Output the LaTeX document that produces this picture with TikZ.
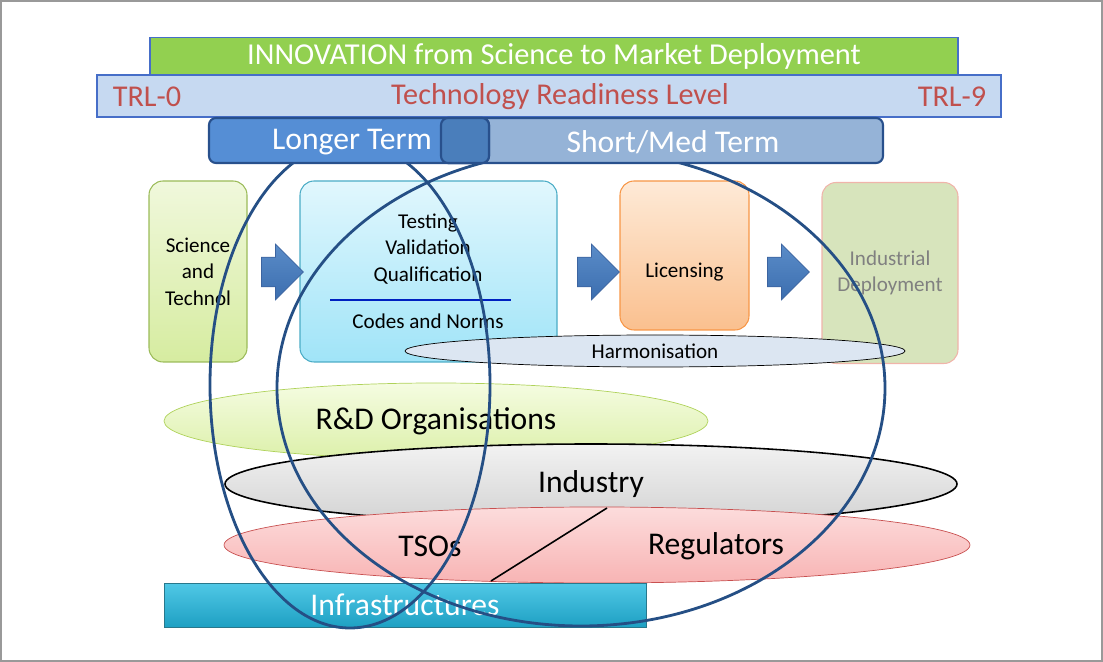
\documentclass[tikz,border=0pt]{standalone}
\usepackage{fontspec}
\setmainfont{Carlito}
\usetikzlibrary{shapes.arrows,shapes.geometric}
\definecolor{dblue}{HTML}{254F85}
\begin{document}
\begin{tikzpicture}[x=0.02cm,y=-0.02cm,
  box/.style={draw,rounded corners=8pt,line width=0.6pt},
  barr/.style={single arrow,draw={rgb,255:red,60;green,100;blue,160},top color={rgb,255:red,90;green,140;blue,200},bottom color={rgb,255:red,60;green,110;blue,175},minimum height=42*0.02cm,single arrow head extend=13*0.02cm,inner sep=0pt,single arrow head indent=0pt},
  big/.style={draw=dblue,line width=1.6pt},
  ell/.style={ellipse,draw}]
\useasboundingbox (0,0) rectangle (1103,662);
\draw[gray!80,line width=1pt] (1,1) rectangle (1102,661);
% banners
\node[draw={rgb,255:red,70;green,110;blue,200},fill={rgb,255:red,146;green,208;blue,80},line width=1pt,minimum width=808*0.02cm,minimum height=37*0.02cm,inner sep=0pt,text=white,font=\fontsize{17.3}{17}\selectfont] (inn) at (554,56) {INNOVATION from Science to Market Deployment};
\node[draw={rgb,255:red,70;green,110;blue,200},fill={rgb,255:red,198;green,217;blue,241},line width=1pt,minimum width=904*0.02cm,minimum height=42*0.02cm,inner sep=0pt] (trl) at (549,96) {};
\node[text={rgb,255:red,192;green,80;blue,77},font=\fontsize{17.2}{17}\selectfont] (t0) at (147,97) {TRL-0};
\node[text={rgb,255:red,192;green,80;blue,77},font=\fontsize{17.2}{17}\selectfont] (tl) at (560,97) {Technology Readiness Level};
\node[text={rgb,255:red,192;green,80;blue,77},font=\fontsize{17.2}{17}\selectfont] (t9) at (952,97) {TRL-9};
% boxes
\node[box,draw={rgb,255:red,155;green,187;blue,89},top color={rgb,255:red,240;green,248;blue,220},bottom color={rgb,255:red,214;green,236;blue,160},minimum width=98*0.02cm,minimum height=181*0.02cm,align=center,font=\fontsize{12}{15}\selectfont] (sci) at (198,271.5) {Science\\and\\Technol};
\node[box,draw={rgb,255:red,75;green,172;blue,198},top color={rgb,255:red,225;green,247;blue,253},bottom color={rgb,255:red,160;green,228;blue,248},minimum width=257*0.02cm,minimum height=181*0.02cm] (tst) at (428.5,271.5) {};
\node[align=center,font=\fontsize{12}{15}\selectfont] (tvq) at (428,249) {Testing\\Validation\\Qualification};
\node[font=\fontsize{12}{15}\selectfont] (cn) at (428,321) {Codes and Norms};
\coordinate (l1) at (330,300); \coordinate (l2) at (511,300);
\draw[draw={rgb,255:red,0;green,32;blue,192},line width=1.6pt] (l1) -- (l2);
\node[box,draw={rgb,255:red,247;green,150;blue,70},top color={rgb,255:red,254;green,234;blue,215},bottom color={rgb,255:red,250;green,192;blue,143},minimum width=129*0.02cm,minimum height=149*0.02cm] (lic) at (684.5,255.5) {};
\node[font=\fontsize{12}{15}\selectfont] (lict) at (684.5,272) {Licensing};
\node[box,draw={rgb,255:red,240;green,180;blue,170},fill={rgb,255:red,215;green,228;blue,188},minimum width=136*0.02cm,minimum height=181*0.02cm,align=center,text=gray,font=\fontsize{12}{15}\selectfont] (ind) at (890,273) {Industrial\\Deployment};
\node[barr] (a1) at (275,272) {\rule{0pt}{0.58cm}};
\node[barr] (a2) at (591,272) {\rule{0pt}{0.58cm}};
\node[barr] (a3) at (781,272) {\rule{0pt}{0.58cm}};
% ellipses
\node[ell,fill={rgb,255:red,220;green,230;blue,242},minimum width=500*0.02cm,minimum height=32*0.02cm,inner sep=0pt,font=\fontsize{12}{15}\selectfont] (har) at (655,351) {Harmonisation};
\node[ell,draw={rgb,255:red,175;green,210;blue,90},top color={rgb,255:red,245;green,252;blue,225},bottom color={rgb,255:red,220;green,240;blue,170},minimum width=544*0.02cm,minimum height=76*0.02cm,inner sep=0pt,font=\fontsize{18}{18}\selectfont] (rd) at (436,421) {R\&D Organisations};
\node[ell,draw=black,line width=0.9pt,top color=gray!10,bottom color=gray!35,minimum width=732*0.02cm,minimum height=80*0.02cm,inner sep=0pt,font=\fontsize{18}{18}\selectfont] (indy) at (591,484) {Industry};
\node[ell,draw={rgb,255:red,200;green,80;blue,80},top color={rgb,255:red,252;green,220;blue,220},bottom color={rgb,255:red,248;green,180;blue,180},minimum width=746*0.02cm,minimum height=76*0.02cm,inner sep=0pt] (tso) at (597,545) {};
\node[font=\fontsize{18}{18}\selectfont] (tsot) at (430,546) {TSOs};
\node[font=\fontsize{18}{18}\selectfont] (regt) at (716,546) {Regulators};
\coordinate (c1) at (607,508); \coordinate (c2) at (491,581);
\draw[black,line width=0.9pt] (c1) -- (c2);
\node[draw={rgb,255:red,40;green,120;blue,140},top color={rgb,255:red,80;green,200;blue,230},bottom color={rgb,255:red,30;green,160;blue,195},minimum width=482*0.02cm,minimum height=44*0.02cm,inner sep=0pt,text=white,font=\fontsize{18}{18}\selectfont] (inf) at (405,605) {Infrastructures};
% big ellipses
\draw[big] (350,385) ellipse [x radius=140, y radius=243];
\draw[big] (581,388) ellipse [x radius=304, y radius=238];
% term bars
\node[draw={rgb,255:red,40;green,80;blue,140},fill={rgb,255:red,149;green,179;blue,215},rounded corners=4pt,line width=1.2pt,minimum width=442*0.02cm,minimum height=45*0.02cm,inner sep=0pt] (smt) at (662,140.5) {};
\node[draw={rgb,255:red,40;green,80;blue,140},fill={rgb,255:red,85;green,142;blue,213},rounded corners=4pt,line width=1.2pt,minimum width=280*0.02cm,minimum height=45*0.02cm,inner sep=0pt] (ltt) at (349,140.5) {};
\node[draw={rgb,255:red,40;green,80;blue,140},fill={rgb,255:red,74;green,126;blue,187},rounded corners=4pt,line width=1.2pt,minimum width=48*0.02cm,minimum height=45*0.02cm,inner sep=0pt] (ov) at (465,140.5) {};
\node[text=white,font=\fontsize{18}{18}\selectfont] (ltx) at (352,142) {Longer Term};
\node[text=white,font=\fontsize{18}{18}\selectfont] (stx) at (673,142) {Short/Med Term};
\end{tikzpicture}
\end{document}
